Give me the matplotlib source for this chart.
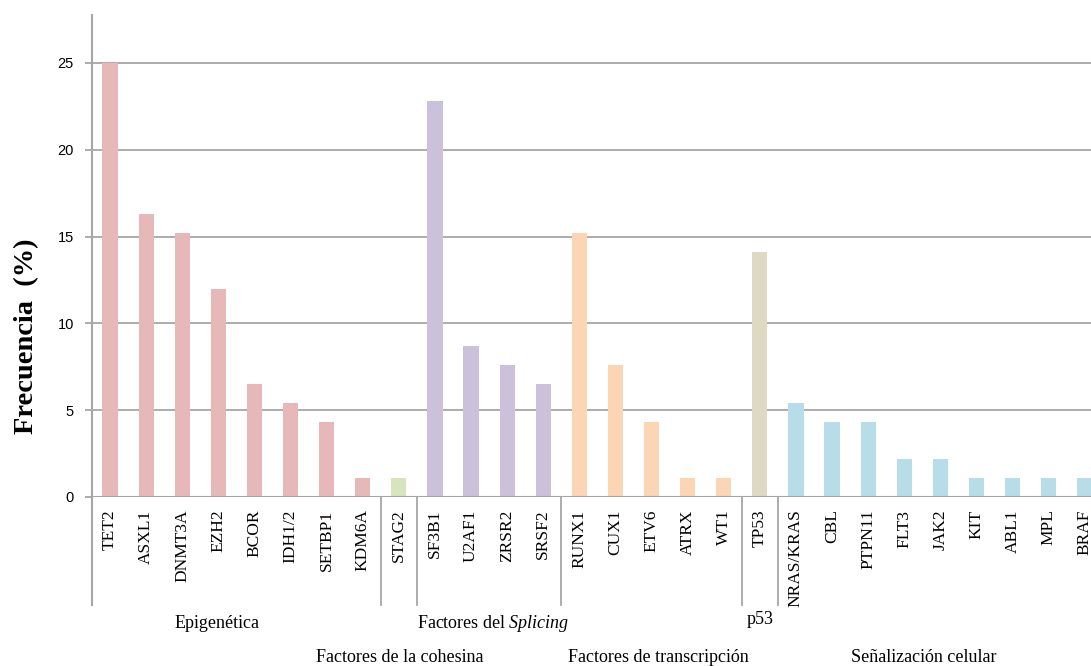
import matplotlib
matplotlib.use("Agg")
import matplotlib.pyplot as plt
from matplotlib.transforms import blended_transform_factory

plt.rcParams["mathtext.fontset"] = "custom"
plt.rcParams["mathtext.rm"] = "Liberation Serif"
plt.rcParams["mathtext.it"] = "Liberation Serif:italic"

genes = ["TET2", "ASXL1", "DNMT3A", "EZH2", "BCOR", "IDH1/2", "SETBP1", "KDM6A",
         "STAG2",
         "SF3B1", "U2AF1", "ZRSR2", "SRSF2",
         "RUNX1", "CUX1", "ETV6", "ATRX", "WT1",
         "TP53",
         "NRAS/KRAS", "CBL", "PTPN11", "FLT3", "JAK2", "KIT", "ABL1", "MPL", "BRAF"]
freq = [25.0, 16.3, 15.2, 12.0, 6.5, 5.4, 4.3, 1.1,
        1.1,
        22.8, 8.7, 7.6, 6.5,
        15.2, 7.6, 4.3, 1.1, 1.1,
        14.1,
        5.4, 4.3, 4.3, 2.2, 2.2, 1.1, 1.1, 1.1, 1.1]
group_sizes = [8, 1, 4, 5, 1, 9]
group_colors = ["#E6B9B8", "#D7E4BD", "#CCC1DA", "#FCD5B5", "#DDD9C3", "#B7DEE8"]
yticks = [0, 5, 10, 15, 20, 25]

colors = []
for n, c in zip(group_sizes, group_colors):
    colors += [c] * n

W, H = 1091, 666
fig = plt.figure(figsize=(W / 100, H / 100), dpi=100)
left_px, bottom_px, top_px = 92, 497, 15
step = 36.1
ncat = len(genes)
right_px = left_px + step * ncat
ax = fig.add_axes([left_px / W, (H - bottom_px) / H, (right_px - left_px) / W,
                   (bottom_px - top_px) / H])
unit_px = (bottom_px - 63) / 25.0
ymax = (bottom_px - top_px) / unit_px
ax.set_xlim(-0.5, ncat - 0.5)
ax.set_ylim(0, ymax)

grid_c = "#A6A6A6"
for yv in yticks[1:]:
    ax.axhline(yv, color=grid_c, lw=1.3, zorder=1)
ax.axhline(0, color=grid_c, lw=1.5, zorder=3)

x = list(range(ncat))
ax.bar(x, freq, width=0.42, color=colors, zorder=2)

for s in ["top", "right", "bottom", "left"]:
    ax.spines[s].set_visible(False)

ax.set_yticks(yticks)
ax.set_yticklabels([str(v) for v in yticks], fontsize=10.5, family="Liberation Sans")
ax.tick_params(axis="y", length=5, color=grid_c, width=1.3, pad=8)
ax.set_xticks(x)
ax.set_xticklabels(genes, rotation=90, family="Liberation Serif", fontsize=12.5,
                   va="top")
ax.tick_params(axis="x", length=0, pad=9)

trans = blended_transform_factory(ax.transData, ax.transAxes)
ylow = -(605 - bottom_px) / (bottom_px - top_px)
ax.plot([-0.5, -0.5], [ylow, 1.0], transform=trans, color=grid_c, lw=1.5,
        clip_on=False, zorder=4)
pos = -0.5
for n in group_sizes[:-1]:
    pos += n
    ax.plot([pos, pos], [ylow, 0], transform=trans, color=grid_c, lw=1.3,
            clip_on=False, zorder=4)

ax.text(-0.5 - 65 / step, (bottom_px - 336) / unit_px, "Frecuencia  (%)",
        rotation=90, ha="center", va="center", family="Liberation Serif",
        fontweight="bold", fontsize=20.5)

def px_to_data(xp):
    return (xp - left_px) / step - 0.5

def ypx(yp):
    return -(yp - bottom_px) / (bottom_px - top_px)

sf = dict(family="Liberation Serif", fontsize=13, ha="center", va="center",
          transform=trans)
ax.text(px_to_data(217), ypx(624), "Epigenética", **sf)
ax.text(px_to_data(493), ypx(624), "Factores del $\\it{Splicing}$", **sf)
ax.text(px_to_data(760), ypx(619), "p53", **sf)
ax.text(px_to_data(400), ypx(658), "Factores de la cohesina", **sf)
ax.text(px_to_data(658), ypx(658), "Factores de transcripción", **sf)
ax.text(px_to_data(924), ypx(658), "Señalización celular", **sf)

fig.savefig("out.png", dpi=100)
